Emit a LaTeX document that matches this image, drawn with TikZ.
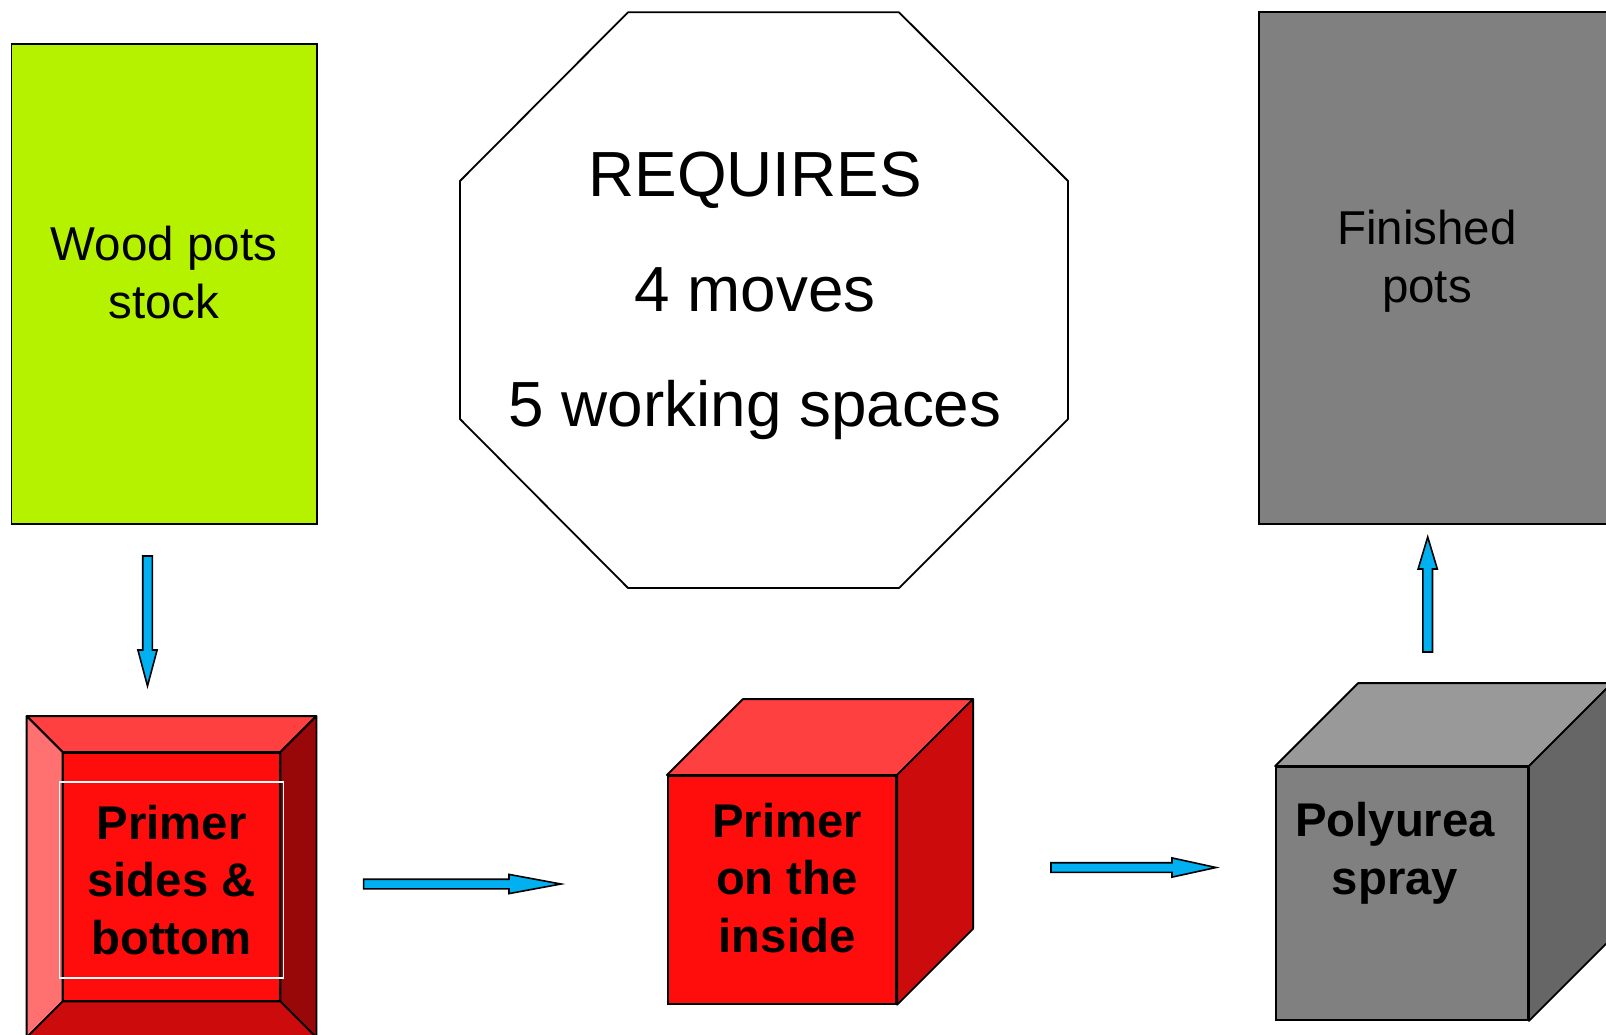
\documentclass[tikz,border=0pt]{standalone}
\usepackage{fontspec}
\setmainfont{Liberation Sans}
\usetikzlibrary{calc, positioning}
\definecolor{potgreen}{HTML}{B4F200}
\definecolor{redfront}{HTML}{FF0D0D}
\definecolor{redtop}{HTML}{FF4040}
\definecolor{redlight}{HTML}{FF7070}
\definecolor{redside}{HTML}{CC0C0C}
\definecolor{reddark}{HTML}{990808}
\definecolor{arrowblue}{HTML}{00B0F0}
\tikzstyle{box} = [rectangle, draw=black, line width=0.9pt, inner sep=0pt]
\tikzstyle{face} = [draw=black, line width=0.9pt, line join=round]
\tikzstyle{plain} = [align=center, font=\fontsize{23.75}{29}\selectfont]
\tikzstyle{boldtxt} = [align=center, font=\fontsize{23.65}{28.8}\selectfont\bfseries]
\tikzstyle{bigtxt} = [align=center, font=\fontsize{31.9}{57.5}\selectfont]
\tikzset{
  fatarrow/.style={fill=arrowblue, draw=black, line width=0.8pt, to path={
    let \p1=(\tikztostart), \p2=(\tikztotarget), \n1={atan2(\y2-\y1,\x2-\x1)} in
    ($(\p1)+(\n1+90:2.4pt)$) -- ($(\p2)+(\n1+180:#1)+(\n1+90:2.4pt)$)
    -- ($(\p2)+(\n1+180:#1)+(\n1+90:4.8pt)$) -- (\p2)
    -- ($(\p2)+(\n1+180:#1)+(\n1-90:4.8pt)$) -- ($(\p2)+(\n1+180:#1)+(\n1-90:2.4pt)$)
    -- ($(\p1)+(\n1-90:2.4pt)$) -- cycle}}
}

\begin{document}
\begin{tikzpicture}[x=0.5pt, y=-0.5pt]
    \useasboundingbox (0,0) rectangle (1606,1034);
    \clip (0,0) rectangle (1606,1034);

    % stock and finished pots
    \node (wood) [box, fill=potgreen, minimum width=152.6pt, minimum height=240pt] at (164,284) {};
    \node (woodtxt) [plain] at (164,273) {Wood pots\\stock};
    \node (done) [box, fill=gray, minimum width=180.5pt, minimum height=255.9pt] at (1439.5,268) {};
    \node (donetxt) [plain] at (1427,261) {Finished\\pots};

    % octagon
    \draw [face, fill=white] (628,12.3) -- (899,12.3) -- (1068,181) -- (1068,419)
        -- (899,588) -- (628,588) -- (460,419) -- (460,181) -- cycle;
    \node (req) [bigtxt] at (755,295.5) {REQUIRES\\4 moves\\5 working spaces};

    % bevelled box
    \node (bevel) [box, fill=redfront, minimum width=108pt, minimum height=123.8pt] at (171.5,876.8) {};
    \coordinate (onw) at ($(bevel.north west)+(-36,-36)$);
    \coordinate (one) at ($(bevel.north east)+(36,-36)$);
    \coordinate (osw) at ($(bevel.south west)+(-36,36)$);
    \coordinate (ose) at ($(bevel.south east)+(36,36)$);
    \draw [face, fill=redtop] (onw) -- (one) -- (bevel.north east) -- (bevel.north west) -- cycle;
    \draw [face, fill=redlight] (onw) -- (bevel.north west) -- (bevel.south west) -- (osw) -- cycle;
    \draw [face, fill=reddark] (one) -- (ose) -- (bevel.south east) -- (bevel.north east) -- cycle;
    \draw [face, fill=redside] (osw) -- (bevel.south west) -- (bevel.south east) -- (ose) -- cycle;
    \node (beveltxt) [boldtxt, draw=white, line width=0.8pt, minimum width=112pt, minimum height=98pt] at (171.5,880) {Primer\\sides \&\\bottom};

    % red cube
    \node (redcube) [box, fill=redfront, minimum width=114.2pt, minimum height=113.9pt] at (782,889.9) {};
    \draw [face, fill=redtop] (redcube.north west) -- ($(redcube.north west)+(76,-76)$)
        -- ($(redcube.north east)+(76,-76)$) -- (redcube.north east) -- cycle;
    \draw [face, fill=redside] (redcube.north east) -- ($(redcube.north east)+(76,-76)$)
        -- ($(redcube.south east)+(76,-76)$) -- (redcube.south east) -- cycle;
    \node (redtxt) [boldtxt] at (787,878) {Primer\\on the\\inside};

    % grey cube
    \node (greycube) [box, fill=gray, minimum width=126pt, minimum height=126.5pt] at (1402,893.5) {};
    \draw [face, fill=gray!80] (greycube.north west) -- ($(greycube.north west)+(83,-83)$)
        -- ($(greycube.north east)+(83,-83)$) -- (greycube.north east) -- cycle;
    \draw [face, fill=gray!80!black] (greycube.north east) -- ($(greycube.north east)+(83,-83)$)
        -- ($(greycube.south east)+(83,-83)$) -- (greycube.south east) -- cycle;
    \node (greytxt) [boldtxt] at (1395,853) {Polyurea\\spray};

    % moves
    \coordinate (m1s) at (147.5,556);
    \coordinate (m1e) at (147.5,686);
    \coordinate (m2s) at (363.6,884);
    \coordinate (m2e) at (561,884);
    \coordinate (m3s) at (1051,867.5);
    \coordinate (m3e) at (1216,867.5);
    \coordinate (m4s) at (1427.7,652);
    \coordinate (m4e) at (1427.7,537);
    \draw [fatarrow=18pt] (m1s) to (m1e);
    \draw [fatarrow=26pt] (m2s) to (m2e);
    \draw [fatarrow=22pt] (m3s) to (m3e);
    \draw [fatarrow=16pt] (m4s) to (m4e);
\end{tikzpicture}
\end{document}
